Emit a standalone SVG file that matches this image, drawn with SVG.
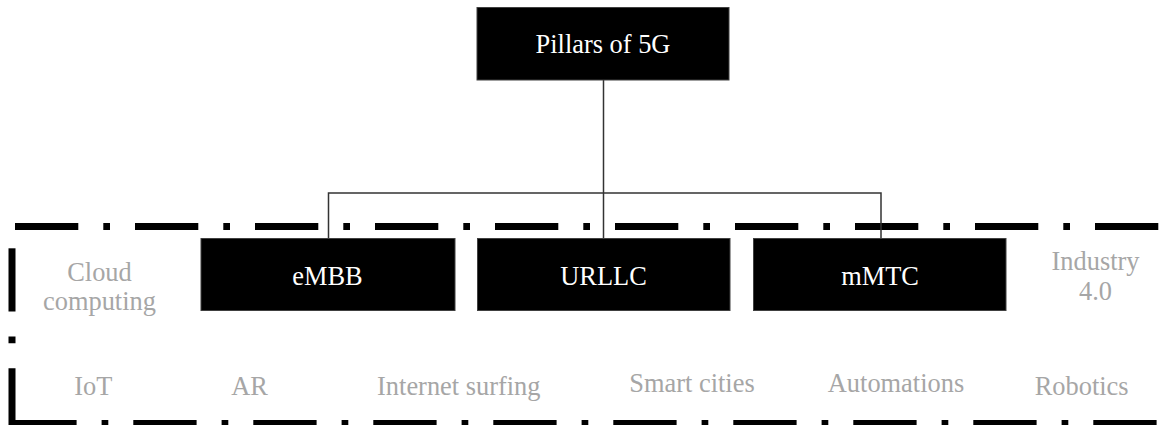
<svg xmlns="http://www.w3.org/2000/svg" width="1159" height="425" viewBox="0 0 1159 425">
  <style>
    .box { fill: #000000; stroke: #404040; stroke-width: 1; }
    .boxText { font-size: 26.4px; fill: #ffffff; text-anchor: middle; }
    .tag { font-size: 26.4px; fill: #a6a6a6; text-anchor: middle; }
    .link { fill: none; stroke: #333333; stroke-width: 1.5; }
    .frame { fill: none; stroke: #000000; stroke-width: 7; stroke-dasharray: 63.3 25 6.7 25; }
  </style>

  <!-- long-dash-dot frame around the use cases -->
  <g id="frame">
    <path class="frame" d="M15 226.5 H1200" stroke-dasharray="6.7 25 63.3 25"/>
    <path class="frame" d="M12 248.3 V440"/>
    <path class="frame" d="M13.3 423.5 H1200"/>
  </g>

  <!-- tree connectors -->
  <g id="connectors">
    <path class="link" d="M603.5 80 V238.3"/>
    <path class="link" d="M328.5 238.3 V193 H881 V238.3"/>
  </g>

  <g font-family="'Liberation Serif', 'DejaVu Serif', serif">
    <g id="pillars">
      <rect class="box" x="477" y="7.5" width="252" height="72.5"/>
      <text class="boxText" x="603" y="53">Pillars of 5G</text>
    </g>

    <g id="embb">
      <rect class="box" x="201" y="238.5" width="254" height="72"/>
      <text class="boxText" x="327.5" y="285">eMBB</text>
    </g>

    <g id="urllc">
      <rect class="box" x="477.5" y="238.5" width="252.5" height="72"/>
      <text class="boxText" x="603.5" y="285">URLLC</text>
    </g>

    <g id="mmtc">
      <rect class="box" x="753.5" y="238.5" width="252.5" height="72"/>
      <text class="boxText" x="880" y="285">mMTC</text>
    </g>

    <!-- use cases -->
    <g id="cloud-computing">
      <text class="tag" x="99.5" y="281">Cloud</text>
      <text class="tag" x="99.5" y="310">computing</text>
    </g>
    <g id="industry">
      <text class="tag" x="1095.5" y="269.5">Industry</text>
      <text class="tag" x="1095.5" y="300">4.0</text>
    </g>
    <g id="iot"><text class="tag" x="93.3" y="395">IoT</text></g>
    <g id="ar"><text class="tag" x="249.5" y="395">AR</text></g>
    <g id="internet-surfing"><text class="tag" x="458.8" y="395">Internet surfing</text></g>
    <g id="smart-cities"><text class="tag" x="692" y="392.3">Smart cities</text></g>
    <g id="automations"><text class="tag" x="896" y="391.7">Automations</text></g>
    <g id="robotics"><text class="tag" x="1081.7" y="395">Robotics</text></g>
  </g>
</svg>
